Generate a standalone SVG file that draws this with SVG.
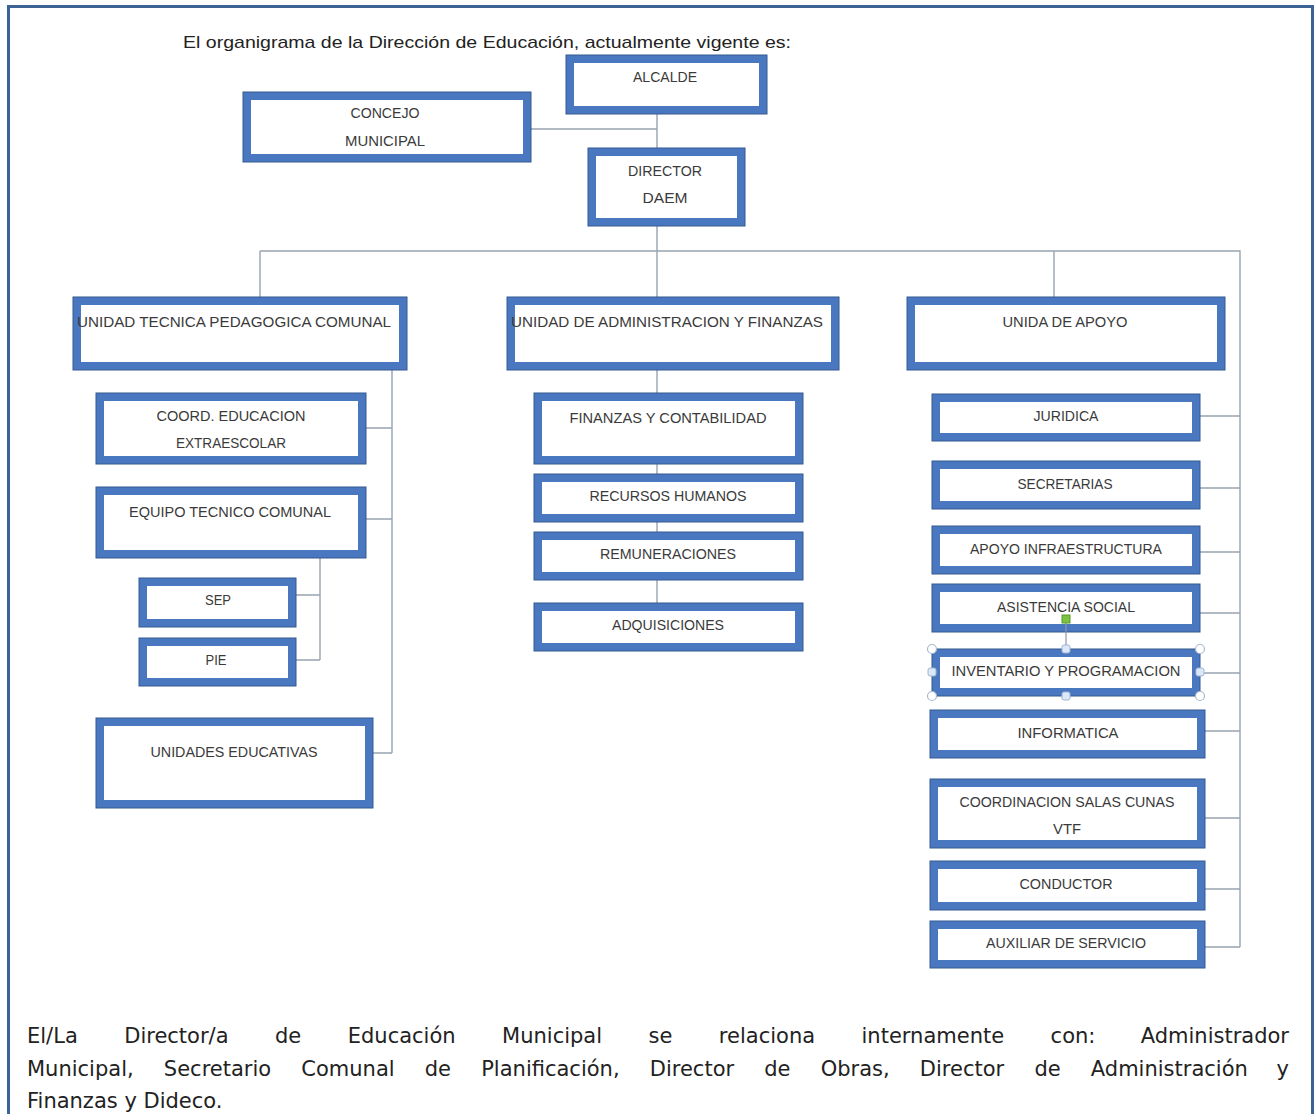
<svg xmlns="http://www.w3.org/2000/svg" width="1314" height="1114" viewBox="0 0 1314 1114">
<style>
.box{fill:#fff;stroke:#4a78c0;stroke-width:8}
.edge{fill:none;stroke:#33598f;stroke-width:1}
.lbl{font-family:"Liberation Sans",Arial,sans-serif;font-size:14px;fill:#3a3a3a;text-anchor:middle}
.con{fill:none;stroke:#98a4b0;stroke-width:1.4}
.para{font-family:"DejaVu Sans","Liberation Sans",sans-serif;font-size:21px;fill:#222}
.hdl{fill:#fff;stroke:#a8b8cc;stroke-width:1.2}
.hdm{fill:#dbe8f7;stroke:#9fb6d3;stroke-width:1}
</style>
<rect width="1314" height="1114" fill="#fff"/>
<path d="M8.5,1114 V6.5 H1312.5 V1114" fill="none" stroke="#3b6494" stroke-width="3"/>
<text x="183" y="48" font-family="Liberation Sans,Arial,sans-serif" font-size="17" fill="#222" textLength="608" lengthAdjust="spacingAndGlyphs">El organigrama de la Dirección de Educación, actualmente vigente es:</text>

<g id="connectors">
<path class="con" d="M531,129 H657 M657,114 V148 M657,226 V297 M260,251 H1240 V947 M260,251 V297 M1054,251 V297"/>
<path class="con" d="M392,370 V753 M366,428 H392 M366,519 H392 M373,753 H392"/>
<path class="con" d="M320,558 V660 M296,595 H320 M296,660 H320"/>
<path class="con" d="M657,370 V603"/>
<path class="con" d="M1200,416 H1240 M1200,488 H1240 M1200,552 H1240 M1200,613 H1240 M1200,673 H1240 M1205,731 H1240 M1205,818 H1240 M1205,889 H1240 M1205,947 H1240"/>
</g>

<g id="alcalde"><rect class="box" x="570" y="59" width="193" height="51"/><rect class="edge" x="566" y="55" width="201" height="59"/><text class="lbl" x="665" y="82" textLength="64" lengthAdjust="spacingAndGlyphs">ALCALDE</text></g>
<g id="concejo"><rect class="box" x="247" y="96" width="280" height="62"/><rect class="edge" x="243" y="92" width="288" height="70"/><text class="lbl" x="385" y="118" textLength="69" lengthAdjust="spacingAndGlyphs">CONCEJO</text><text class="lbl" x="385" y="146" textLength="80" lengthAdjust="spacingAndGlyphs">MUNICIPAL</text></g>
<g id="director"><rect class="box" x="592" y="152" width="149" height="70"/><rect class="edge" x="588" y="148" width="157" height="78"/><text class="lbl" x="665" y="176" textLength="74" lengthAdjust="spacingAndGlyphs">DIRECTOR</text><text class="lbl" x="665" y="203" textLength="45" lengthAdjust="spacingAndGlyphs">DAEM</text></g>

<g id="utp"><rect class="box" x="77" y="301" width="326" height="65"/><rect class="edge" x="73" y="297" width="334" height="73"/><text class="lbl" x="234" y="327" textLength="314" lengthAdjust="spacingAndGlyphs">UNIDAD TECNICA PEDAGOGICA COMUNAL</text></g>
<g id="uaf"><rect class="box" x="511" y="301" width="324" height="65"/><rect class="edge" x="507" y="297" width="332" height="73"/><text class="lbl" x="667" y="327" textLength="312" lengthAdjust="spacingAndGlyphs">UNIDAD DE ADMINISTRACION Y FINANZAS</text></g>
<g id="apoyo"><rect class="box" x="911" y="301" width="310" height="65"/><rect class="edge" x="907" y="297" width="318" height="73"/><text class="lbl" x="1065" y="327" textLength="125" lengthAdjust="spacingAndGlyphs">UNIDA DE APOYO</text></g>

<g id="coord"><rect class="box" x="100" y="397" width="262" height="63"/><rect class="edge" x="96" y="393" width="270" height="71"/><text class="lbl" x="231" y="421" textLength="149" lengthAdjust="spacingAndGlyphs">COORD. EDUCACION</text><text class="lbl" x="231" y="448" textLength="110" lengthAdjust="spacingAndGlyphs">EXTRAESCOLAR</text></g>
<g id="equipo"><rect class="box" x="100" y="491" width="262" height="63"/><rect class="edge" x="96" y="487" width="270" height="71"/><text class="lbl" x="230" y="517" textLength="202" lengthAdjust="spacingAndGlyphs">EQUIPO TECNICO COMUNAL</text></g>
<g id="sep"><rect class="box" x="143" y="582" width="149" height="41"/><rect class="edge" x="139" y="578" width="157" height="49"/><text class="lbl" x="218" y="605" textLength="26" lengthAdjust="spacingAndGlyphs">SEP</text></g>
<g id="pie"><rect class="box" x="143" y="642" width="149" height="40"/><rect class="edge" x="139" y="638" width="157" height="48"/><text class="lbl" x="216" y="665" textLength="21" lengthAdjust="spacingAndGlyphs">PIE</text></g>
<g id="unidades"><rect class="box" x="100" y="722" width="269" height="82"/><rect class="edge" x="96" y="718" width="277" height="90"/><text class="lbl" x="234" y="757" textLength="167" lengthAdjust="spacingAndGlyphs">UNIDADES EDUCATIVAS</text></g>

<g id="finanzas"><rect class="box" x="538" y="397" width="261" height="63"/><rect class="edge" x="534" y="393" width="269" height="71"/><text class="lbl" x="668" y="423" textLength="197" lengthAdjust="spacingAndGlyphs">FINANZAS Y CONTABILIDAD</text></g>
<g id="rrhh"><rect class="box" x="538" y="478" width="261" height="40"/><rect class="edge" x="534" y="474" width="269" height="48"/><text class="lbl" x="668" y="501" textLength="157" lengthAdjust="spacingAndGlyphs">RECURSOS HUMANOS</text></g>
<g id="remun"><rect class="box" x="538" y="536" width="261" height="40"/><rect class="edge" x="534" y="532" width="269" height="48"/><text class="lbl" x="668" y="559" textLength="136" lengthAdjust="spacingAndGlyphs">REMUNERACIONES</text></g>
<g id="adq"><rect class="box" x="538" y="607" width="261" height="40"/><rect class="edge" x="534" y="603" width="269" height="48"/><text class="lbl" x="668" y="630" textLength="112" lengthAdjust="spacingAndGlyphs">ADQUISICIONES</text></g>

<g id="juridica"><rect class="box" x="936" y="398" width="260" height="39"/><rect class="edge" x="932" y="394" width="268" height="47"/><text class="lbl" x="1066" y="421" textLength="65" lengthAdjust="spacingAndGlyphs">JURIDICA</text></g>
<g id="secretarias"><rect class="box" x="936" y="465" width="260" height="40"/><rect class="edge" x="932" y="461" width="268" height="48"/><text class="lbl" x="1065" y="489" textLength="95" lengthAdjust="spacingAndGlyphs">SECRETARIAS</text></g>
<g id="infra"><rect class="box" x="936" y="530" width="260" height="40"/><rect class="edge" x="932" y="526" width="268" height="48"/><text class="lbl" x="1066" y="554" textLength="192" lengthAdjust="spacingAndGlyphs">APOYO INFRAESTRUCTURA</text></g>
<g id="asistencia"><rect class="box" x="936" y="588" width="260" height="40"/><rect class="edge" x="932" y="584" width="268" height="48"/><text class="lbl" x="1066" y="612" textLength="138" lengthAdjust="spacingAndGlyphs">ASISTENCIA SOCIAL</text></g>
<g id="inventario"><rect class="box" x="936" y="653" width="260" height="39"/><rect class="edge" x="932" y="649" width="268" height="47"/><text class="lbl" x="1066" y="676" textLength="229" lengthAdjust="spacingAndGlyphs">INVENTARIO Y PROGRAMACION</text>
<line x1="1066" y1="621" x2="1066" y2="649" stroke="#8a97a6" stroke-width="1.2"/>
<rect x="1062" y="615" width="8" height="8" fill="#7cc243" stroke="#5a9a2c" stroke-width="1"/>
<circle class="hdl" cx="932" cy="649" r="4.5"/><circle class="hdl" cx="1200" cy="649" r="4.5"/><circle class="hdl" cx="932" cy="696" r="4.5"/><circle class="hdl" cx="1200" cy="696" r="4.5"/>
<rect class="hdm" x="1062" y="645" width="8" height="8" rx="2"/><rect class="hdm" x="1062" y="692" width="8" height="8" rx="2"/><rect class="hdm" x="928" y="668" width="8" height="8" rx="2"/><rect class="hdm" x="1196" y="668" width="8" height="8" rx="2"/>
</g>
<g id="informatica"><rect class="box" x="934" y="714" width="267" height="40"/><rect class="edge" x="930" y="710" width="275" height="48"/><text class="lbl" x="1068" y="738" textLength="101" lengthAdjust="spacingAndGlyphs">INFORMATICA</text></g>
<g id="salascunas"><rect class="box" x="934" y="783" width="267" height="61"/><rect class="edge" x="930" y="779" width="275" height="69"/><text class="lbl" x="1067" y="807" textLength="215" lengthAdjust="spacingAndGlyphs">COORDINACION SALAS CUNAS</text><text class="lbl" x="1067" y="834" textLength="28" lengthAdjust="spacingAndGlyphs">VTF</text></g>
<g id="conductor"><rect class="box" x="934" y="865" width="267" height="41"/><rect class="edge" x="930" y="861" width="275" height="49"/><text class="lbl" x="1066" y="889" textLength="93" lengthAdjust="spacingAndGlyphs">CONDUCTOR</text></g>
<g id="auxiliar"><rect class="box" x="934" y="925" width="267" height="39"/><rect class="edge" x="930" y="921" width="275" height="47"/><text class="lbl" x="1066" y="948" textLength="160" lengthAdjust="spacingAndGlyphs">AUXILIAR DE SERVICIO</text></g>

<text class="para" x="27" y="1043" word-spacing="39.8">El/La Director/a de Educación Municipal se relaciona internamente con:</text>
<text class="para" x="1289" y="1043" text-anchor="end">Administrador</text>
<text class="para" x="27" y="1076" word-spacing="23.5">Municipal, Secretario Comunal de Planificación, Director de Obras, Director de Administración</text>
<text class="para" x="1289" y="1076" text-anchor="end">y</text>
<text class="para" x="27" y="1108">Finanzas y Dideco.</text>
</svg>
